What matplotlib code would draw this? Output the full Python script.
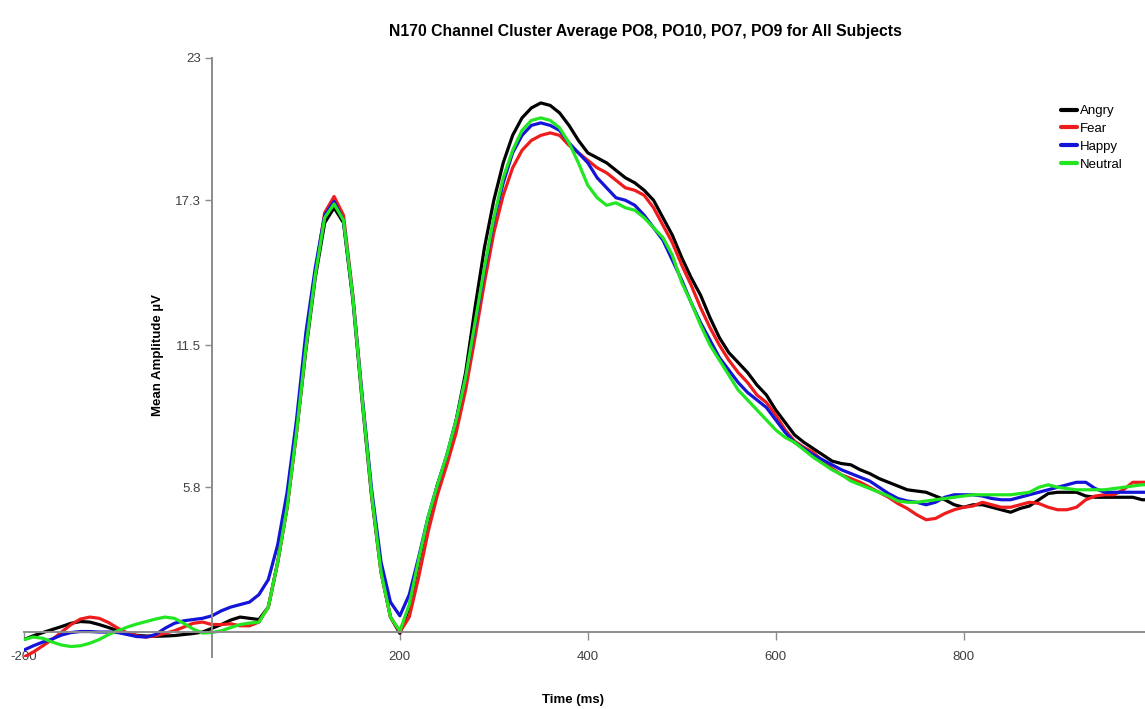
import matplotlib
matplotlib.use("Agg")
import matplotlib.pyplot as plt
import numpy as np

plt.rcParams['font.family'] = ['Liberation Sans', 'DejaVu Sans']
plt.rcParams['axes.unicode_minus'] = False

# time axis (ms), one sample every 10 ms
time_ms = np.arange(-200, 1001, 10)

angry = [
    -0.3, -0.15, -0.02, 0.1, 0.22, 0.35, 0.42, 0.4, 0.3, 0.18,          # -200..-110
    0.05, -0.06, -0.13, -0.16, -0.17, -0.16, -0.14, -0.1, -0.06, 0.0,   # -100..-10
    0.15, 0.3, 0.48, 0.6, 0.55, 0.5, 1.0, 2.8, 5.0, 8.0,                # 0..90
    11.3, 14.2, 16.4, 17.0, 16.4, 13.3, 9.2, 5.4, 2.4, 0.6,             # 100..190
    -0.05, 1.0, 2.8, 4.5, 5.9, 7.0, 8.5, 10.4, 13.0, 15.4,             # 200..290
    17.3, 18.8, 19.9, 20.6, 21.0, 21.2, 21.1, 20.8, 20.3, 19.7,         # 300..390
    19.2, 19.0, 18.8, 18.5, 18.2, 18.0, 17.7, 17.3, 16.6, 15.9,         # 400..490
    15.0, 14.2, 13.5, 12.6, 11.8, 11.2, 10.8, 10.4, 9.9, 9.5,           # 500..590
    8.9, 8.4, 7.9, 7.6, 7.35, 7.1, 6.85, 6.75, 6.7, 6.5,                # 600..690
    6.35, 6.15, 6.0, 5.85, 5.7, 5.65, 5.6, 5.45, 5.3, 5.1,              # 700..790
    5.0, 5.1, 5.1, 5.0, 4.9, 4.8, 4.95, 5.05, 5.3, 5.55,                # 800..890
    5.6, 5.6, 5.6, 5.45, 5.4, 5.4, 5.4, 5.4, 5.4, 5.3,                  # 900..990
    5.3,                                                                # 1000
]

fear = [
    -1.0, -0.8, -0.55, -0.3, 0.0, 0.3, 0.52, 0.6, 0.55, 0.38,
    0.15, -0.04, -0.15, -0.2, -0.15, -0.05, 0.05, 0.2, 0.35, 0.4,
    0.3, 0.3, 0.33, 0.25, 0.25, 0.4, 1.0, 2.8, 5.0, 8.0,
    11.5, 14.4, 16.8, 17.45, 16.7, 13.5, 9.4, 5.5, 2.4, 0.6,
    0.0, 0.6, 2.2, 4.0, 5.5, 6.7, 8.0, 9.7, 11.8, 14.0,
    16.0, 17.5, 18.6, 19.3, 19.7, 19.9, 20.0, 19.9, 19.5, 19.2,
    18.9, 18.6, 18.4, 18.1, 17.8, 17.7, 17.5, 17.0, 16.3, 15.6,
    14.7, 13.9, 13.0, 12.2, 11.5, 10.9, 10.4, 10.0, 9.5, 9.2,
    8.7, 8.1, 7.65, 7.4, 7.2, 6.85, 6.55, 6.3, 6.15, 6.0,
    5.8, 5.6, 5.4, 5.15, 4.95, 4.7, 4.5, 4.55, 4.75, 4.9,
    5.0, 5.05, 5.2, 5.1, 5.0, 5.0, 5.1, 5.2, 5.15, 5.0,
    4.9, 4.9, 5.0, 5.3, 5.45, 5.5, 5.5, 5.7, 6.0, 6.0,
    6.0,
]

happy = [
    -0.72, -0.55, -0.4, -0.28, -0.12, -0.02, 0.02, 0.02, 0.0, 0.0,
    -0.02, -0.1, -0.18, -0.2, -0.1, 0.15, 0.35, 0.45, 0.5, 0.55,
    0.65, 0.85, 1.0, 1.1, 1.2, 1.5, 2.1, 3.5, 5.6, 8.5,
    12.0, 14.6, 16.7, 17.25, 16.5, 13.4, 9.4, 5.7, 2.8, 1.2,
    0.65, 1.5, 3.0, 4.6, 5.9, 7.1, 8.5, 10.2, 12.3, 14.5,
    16.5, 18.0, 19.2, 19.9, 20.3, 20.4, 20.3, 20.1, 19.6, 19.2,
    18.8, 18.2, 17.8, 17.4, 17.3, 17.1, 16.7, 16.2, 15.7, 14.9,
    14.1, 13.2, 12.4, 11.7, 11.0, 10.5, 10.0, 9.6, 9.3, 9.0,
    8.5, 8.0, 7.6, 7.35, 7.1, 6.9, 6.7, 6.5, 6.35, 6.2,
    6.05, 5.8, 5.55, 5.35, 5.25, 5.2, 5.1, 5.2, 5.4, 5.5,
    5.5, 5.5, 5.45, 5.35, 5.3, 5.3, 5.4, 5.5, 5.6, 5.7,
    5.8, 5.9, 6.0, 6.0, 5.75, 5.6, 5.6, 5.6, 5.6, 5.6,
    5.6,
]

neutral = [
    -0.3, -0.2, -0.25, -0.4, -0.52, -0.58, -0.55, -0.45, -0.3, -0.1,
    0.05, 0.2, 0.32, 0.42, 0.52, 0.6, 0.55, 0.35, 0.12, -0.04,
    -0.02, 0.05, 0.18, 0.3, 0.36, 0.4, 1.0, 2.8, 5.0, 8.0,
    11.4, 14.3, 16.6, 17.15, 16.5, 13.4, 9.3, 5.5, 2.4, 0.6,
    0.05, 1.1, 2.9, 4.6, 5.9, 7.1, 8.5, 10.2, 12.4, 14.6,
    16.6, 18.2, 19.3, 20.1, 20.5, 20.6, 20.5, 20.2, 19.6, 18.8,
    17.9, 17.4, 17.1, 17.2, 17.0, 16.9, 16.6, 16.2, 15.8, 15.1,
    14.0, 13.2, 12.3, 11.5, 10.9, 10.3, 9.7, 9.3, 8.9, 8.5,
    8.1, 7.8, 7.6, 7.3, 7.0, 6.75, 6.5, 6.3, 6.05, 5.9,
    5.75, 5.6, 5.45, 5.25, 5.2, 5.2, 5.25, 5.3, 5.35, 5.4,
    5.45, 5.5, 5.5, 5.5, 5.5, 5.5, 5.55, 5.6, 5.8, 5.9,
    5.8, 5.75, 5.7, 5.7, 5.7, 5.7, 5.75, 5.8, 5.85, 5.9,
    5.9,
]

conditions = ['Angry', 'Fear', 'Happy', 'Neutral']
colors = ['#000000', '#ee1c1c', '#1414d8', '#22e622']
ytick_vals = [5.8, 11.5, 17.3, 23]
xtick_vals = [-200, 200, 400, 600, 800]

fig = plt.figure(figsize=(11.45, 7.09), dpi=100)
ax = fig.add_axes([24 / 1145, 52 / 709, 1121 / 1145, 599 / 709])

for name, vals, c in zip(conditions, [angry, fear, happy, neutral], colors):
    ax.plot(time_ms, vals, color=c, lw=2.3, label=name, solid_capstyle='round')

ax.set_xlim(-200, 993)
ax.set_ylim(-1, 23)

for s in ['top', 'right']:
    ax.spines[s].set_visible(False)
ax.spines['left'].set_position(('data', 0))
ax.spines['bottom'].set_position(('data', 0))
for s in ['left', 'bottom']:
    ax.spines[s].set_color('#8c8c8c')
    ax.spines[s].set_linewidth(1.4)

ax.set_yticks(ytick_vals)
ax.set_yticklabels([str(v) for v in ytick_vals])
ax.set_xticks(xtick_vals)
ax.tick_params(axis='both', colors='#8c8c8c', labelcolor='#404040', labelsize=9.5,
               width=1.0, length=5)
ax.tick_params(axis='y', pad=3)
ax.tick_params(axis='x', length=6, pad=8)

ax.set_xlabel('Time (ms)', fontsize=9.5, fontweight='bold')
ax.xaxis.set_label_coords(0.49, -0.062)
ax.set_ylabel('Mean Amplitude \u00b5V', fontsize=9.5, fontweight='bold')
ax.yaxis.set_label_coords(0.125, 0.504)

fig.text(0.564, 0.955, 'N170 Channel Cluster Average PO8, PO10, PO7, PO9 for All Subjects',
         ha='center', va='center', fontsize=11.3, fontweight='bold')

leg = ax.legend(loc='upper left', bbox_to_anchor=(1061 / 1145, 1 - 105 / 709),
                bbox_transform=fig.transFigure, frameon=False, fontsize=9.5,
                handlelength=1.25, handletextpad=0.15, labelspacing=0.42,
                borderpad=0, borderaxespad=0)
for h in leg.get_lines():
    h.set_linewidth(3)

fig.savefig('out.png', dpi=100)
